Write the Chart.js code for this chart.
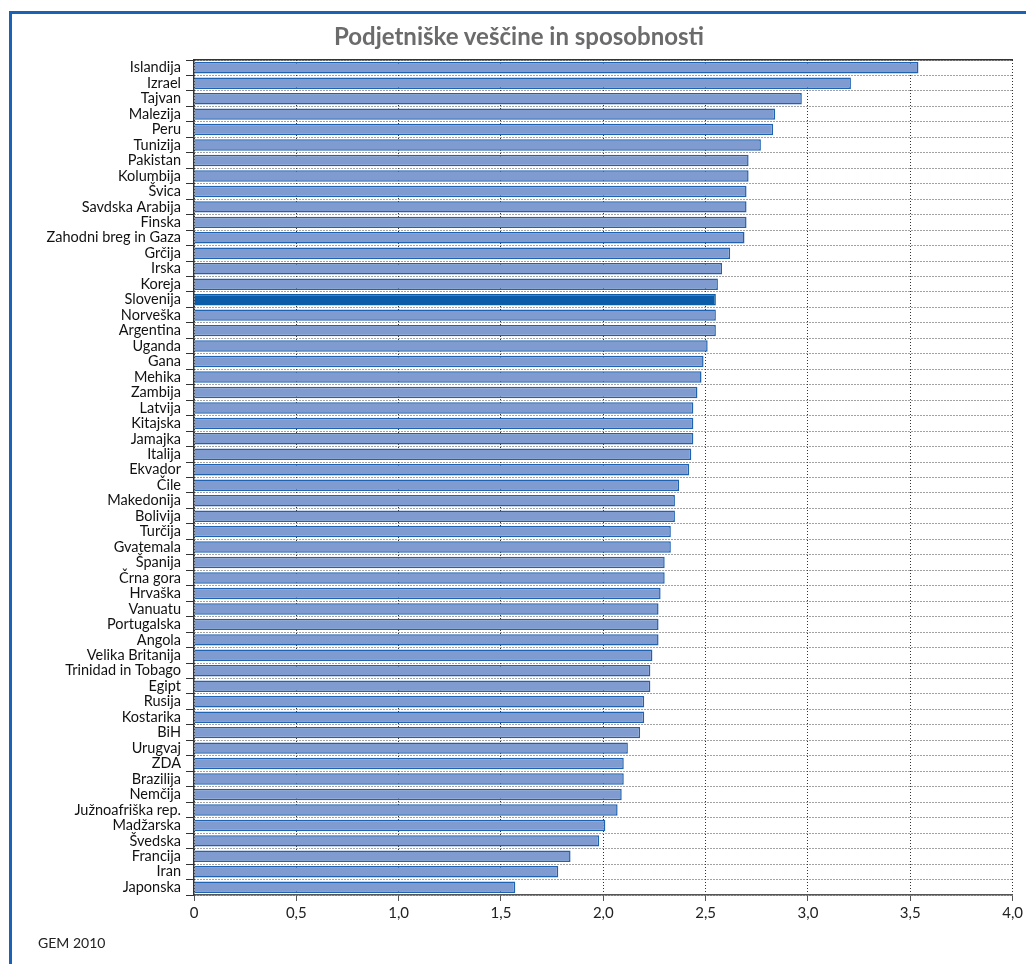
<!DOCTYPE html>
<html>
<head>
<meta charset="utf-8">
<script src="https://cdn.jsdelivr.net/npm/chart.js@4.4.1/dist/chart.umd.min.js"></script>
<style>
  body { margin: 0; background: #fff; font-family: Lato, "Open Sans", sans-serif; }
  #frame { position: absolute; left: 9px; top: 11px; width: 1017px; height: 953px;
           border-left: 3px solid #1a62b3; border-top: 3px solid #1a62b3; }
  #title { position: absolute; left: 12px; right: 0; top: 21px; text-align: center;
           font-size: 24px; font-weight: bold; color: #6b6b6b; }
  #source { position: absolute; left: 38px; top: 934px; font-size: 14px; color: #222; }
  #wrap { position: absolute; left: 0; top: 0; width: 1026px; height: 964px; }
</style>
</head>
<body>
<div id="frame"></div>
<div id="wrap"><canvas id="chart"></canvas></div>
<div id="title">Podjetniške veščine in sposobnosti</div>
<div id="source">GEM 2010</div>
<script>
let countries = ["Islandija", "Izrael", "Tajvan", "Malezija", "Peru", "Tunizija", "Pakistan", "Kolumbija",
    "Švica", "Savdska Arabija", "Finska", "Zahodni breg in Gaza", "Grčija", "Irska", "Koreja", "Slovenija",
    "Norveška", "Argentina", "Uganda", "Gana", "Mehika", "Zambija", "Latvija", "Kitajska", "Jamajka",
    "Italija", "Ekvador", "Čile", "Makedonija", "Bolivija", "Turčija", "Gvatemala", "Španija", "Črna gora",
    "Hrvaška", "Vanuatu", "Portugalska", "Angola", "Velika Britanija", "Trinidad in Tobago", "Egipt",
    "Rusija", "Kostarika", "BiH", "Urugvaj", "ZDA", "Brazilija", "Nemčija", "Južnoafriška rep.",
    "Madžarska", "Švedska", "Francija", "Iran", "Japonska"]

let scores = [3.54, 3.21, 2.97, 2.84, 2.83, 2.77, 2.71, 2.71,
    2.70, 2.70, 2.70, 2.69, 2.62, 2.58, 2.56, 2.55,
    2.55, 2.55, 2.51, 2.49, 2.48, 2.46, 2.44, 2.44, 2.44,
    2.43, 2.42, 2.37, 2.35, 2.35, 2.33, 2.33, 2.30, 2.30,
    2.28, 2.27, 2.27, 2.27, 2.24, 2.23, 2.23,
    2.20, 2.20, 2.18, 2.12, 2.10, 2.10, 2.09, 2.07,
    2.01, 1.98, 1.84, 1.78, 1.57]

let xTicks = [0, 0.5, 1.0, 1.5, 2.0, 2.5, 3.0, 3.5, 4.0]
let highlight = "Slovenija"

let fillColors = countries.map(c => c == highlight ? "#0a5ca8" : "#7f9bcf")
let lineColors = countries.map(c => c == highlight ? "#0a5ca8" : "#1f62b2")

let fontFamily = "Lato, 'Open Sans', sans-serif"

let config = {
    type: 'bar',
    data: {
        labels: countries,
        datasets: [{
            data: scores,
            backgroundColor: fillColors,
            borderColor: lineColors,
            borderWidth: 1.5,
            categoryPercentage: 1,
            barPercentage: 0.74
        }]
    },
    options: {
        indexAxis: 'y',
        responsive: true,
        maintainAspectRatio: false,
        animation: false,
        layout: { padding: { left: 0, right: 13, top: 60, bottom: 39 } },
        plugins: {
            legend: { display: false },
            tooltip: { enabled: false }
        },
        scales: {
            x: {
                min: 0,
                max: 4,
                afterBuildTicks: (s) => { s.ticks = xTicks.map(v => ({ value: v })) },
                afterFit: (s) => { s.height = 30 },
                ticks: {
                    color: '#222',
                    font: { family: fontFamily, size: 15 },
                    padding: 3,
                    callback: (v) => v == 0 ? "0" : v.toFixed(1).replace(".", ",")
                },
                grid: { color: '#333', tickColor: '#555', tickLength: 6, tickBorderDash: [] },
                border: { display: true, color: '#555', width: 1.5, dash: [1, 2] }
            },
            x2: {
                position: 'top',
                min: 0,
                max: 4,
                afterFit: (s) => { s.height = 0 },
                ticks: { display: false },
                grid: { display: false },
                border: { display: true, color: '#333', width: 1.5 }
            },
            y: {
                afterFit: (s) => { s.width = 194 },
                ticks: {
                    color: '#111',
                    font: { family: fontFamily, size: 14.5 },
                    padding: 5,
                    autoSkip: false
                },
                grid: { color: '#444', tickColor: '#333', tickLength: 8, tickBorderDash: [] },
                border: { display: true, color: '#333', width: 1.5, dash: [1, 2] }
            }
        }
    }
}

const myChart = new Chart(document.querySelector("#chart"), config)
</script>
</body>
</html>
